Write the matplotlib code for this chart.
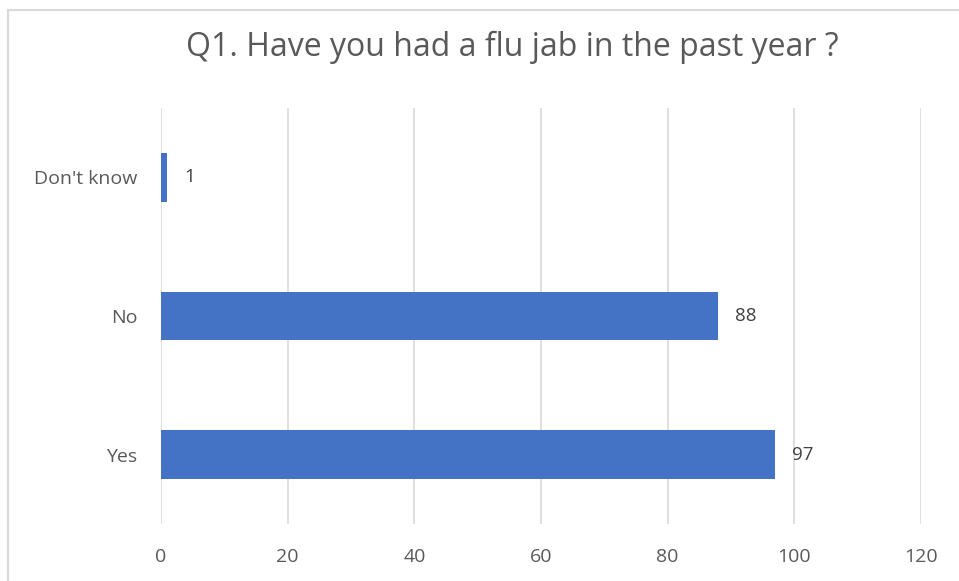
import matplotlib
matplotlib.use("Agg")
import matplotlib.pyplot as plt
from matplotlib.patches import Rectangle

categorias = ["Yes", "No", "Don't know"]
valores = [97, 88, 1]
ticks_x = [0, 20, 40, 60, 80, 100, 120]
titulo = "Q1. Have you had a flu jab in the past year ?"

W, H = 959, 581
fig = plt.figure(figsize=(W / 100, H / 100), dpi=100)
plt.rcParams['font.family'] = ['Open Sans', 'DejaVu Sans']

# borde gris del área del gráfico (recortado a la derecha y abajo)
fig.patches.append(Rectangle((8 / W, -0.1), 1.2, 1 - 10 / H + 0.1, transform=fig.transFigure,
                             fill=False, edgecolor="#D9D9D9", linewidth=1.5))

ax = fig.add_axes([161 / W, 1 - 524 / H, (921 - 161) / W, (524 - 108) / H])
pos = list(range(len(categorias)))
ax.barh(pos, valores, height=0.35, color="#4472C4", zorder=3)
for p, v in zip(pos, valores):
    ax.text(v + 2.6, p, str(v), va="center", ha="left", fontsize=13.5, color="#404040")

ax.set_xlim(0, 120)
ax.set_ylim(-0.5, len(categorias) - 0.5)
ax.set_xticks(ticks_x)
ax.set_yticks(pos)
ax.set_yticklabels(categorias)
ax.tick_params(axis="both", length=0, labelsize=14, labelcolor="#595959")
ax.tick_params(axis="x", pad=17)
ax.tick_params(axis="y", pad=17)
ax.grid(axis="x", color="#D9D9D9", linewidth=1.2, zorder=0)
for s in ["top", "right", "bottom", "left"]:
    ax.spines[s].set_visible(False)

fig.text(512 / W, 1 - 47 / H, titulo, ha="center", va="center", fontsize=23, color="#595959")

plt.savefig("out.png", dpi=100)
plt.close()
